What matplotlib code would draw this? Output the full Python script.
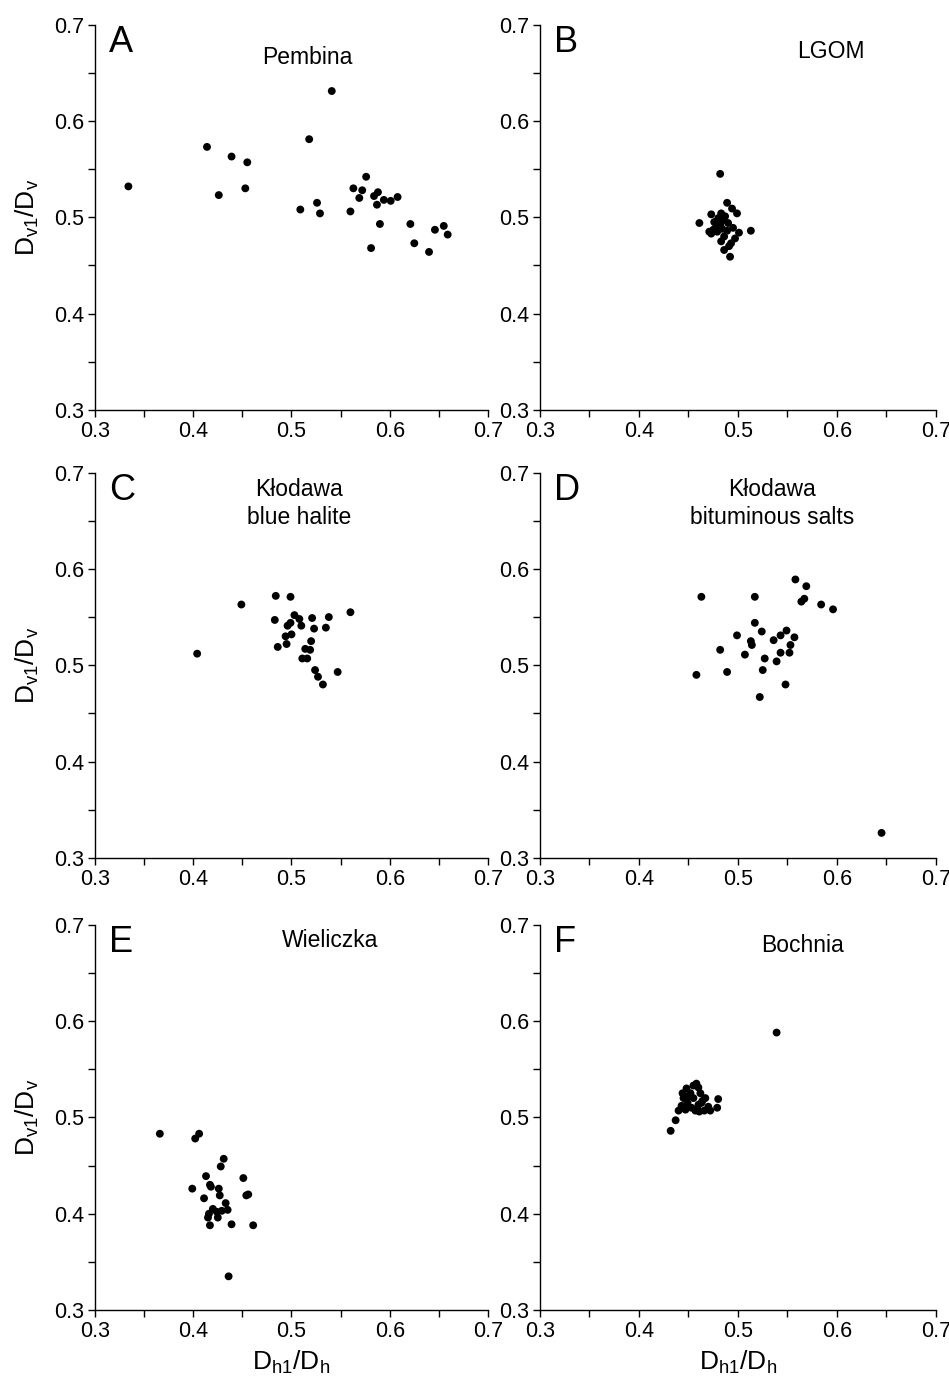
import matplotlib
matplotlib.use("Agg")
import matplotlib.pyplot as plt
from matplotlib.ticker import MultipleLocator

plt.rcParams['font.family'] = ['Liberation Sans', 'DejaVu Sans']
plt.rcParams['mathtext.fontset'] = 'custom'
plt.rcParams['mathtext.rm'] = 'Liberation Sans'
plt.rcParams['mathtext.default'] = 'regular'

# Panel A - Pembina
pembina_x = [0.334, 0.414, 0.439, 0.455, 0.426, 0.453, 0.541, 0.518, 0.576, 0.563,
             0.572, 0.569, 0.584, 0.588, 0.587, 0.594, 0.601, 0.608, 0.526, 0.529,
             0.509, 0.560, 0.590, 0.581, 0.621, 0.625, 0.640, 0.646, 0.655, 0.659]
pembina_y = [0.532, 0.573, 0.563, 0.557, 0.523, 0.530, 0.631, 0.581, 0.542, 0.530,
             0.528, 0.520, 0.522, 0.526, 0.513, 0.518, 0.517, 0.521, 0.515, 0.504,
             0.508, 0.506, 0.493, 0.468, 0.493, 0.473, 0.464, 0.487, 0.491, 0.482]

# Panel B - LGOM
lgom_x = [0.482, 0.489, 0.494, 0.499, 0.473, 0.483, 0.461, 0.485, 0.490, 0.482,
          0.475, 0.473, 0.479, 0.489, 0.501, 0.513, 0.497, 0.483, 0.493, 0.486,
          0.491, 0.492, 0.487, 0.478, 0.471, 0.476, 0.480, 0.495, 0.486, 0.484]
lgom_y = [0.545, 0.515, 0.509, 0.504, 0.503, 0.504, 0.494, 0.497, 0.494, 0.492,
          0.487, 0.483, 0.485, 0.486, 0.484, 0.486, 0.478, 0.475, 0.473, 0.466,
          0.470, 0.459, 0.501, 0.490, 0.485, 0.495, 0.499, 0.489, 0.480, 0.488]

# Panel C - Klodawa blue halite
blue_x = [0.404, 0.449, 0.484, 0.499, 0.483, 0.503, 0.508, 0.499, 0.496, 0.510,
          0.521, 0.538, 0.560, 0.523, 0.535, 0.494, 0.500, 0.495, 0.486, 0.520,
          0.514, 0.519, 0.511, 0.516, 0.524, 0.527, 0.532, 0.547]
blue_y = [0.512, 0.563, 0.572, 0.571, 0.547, 0.552, 0.548, 0.544, 0.541, 0.541,
          0.549, 0.550, 0.555, 0.538, 0.539, 0.530, 0.532, 0.522, 0.519, 0.525,
          0.517, 0.516, 0.507, 0.507, 0.495, 0.488, 0.480, 0.493]

# Panel D - Klodawa bituminous salts
bitum_x = [0.463, 0.517, 0.558, 0.569, 0.567, 0.564, 0.584, 0.596, 0.517, 0.524,
           0.499, 0.513, 0.514, 0.536, 0.543, 0.549, 0.557, 0.553, 0.552, 0.543,
           0.527, 0.507, 0.482, 0.539, 0.525, 0.489, 0.458, 0.548, 0.522, 0.645]
bitum_y = [0.571, 0.571, 0.589, 0.582, 0.569, 0.566, 0.563, 0.558, 0.544, 0.535,
           0.531, 0.525, 0.521, 0.526, 0.531, 0.536, 0.529, 0.521, 0.513, 0.513,
           0.507, 0.511, 0.516, 0.504, 0.495, 0.493, 0.490, 0.480, 0.467, 0.326]

# Panel E - Wieliczka
wiel_x = [0.366, 0.406, 0.402, 0.431, 0.428, 0.413, 0.451, 0.399, 0.417, 0.418,
          0.426, 0.427, 0.411, 0.454, 0.456, 0.433, 0.420, 0.424, 0.429, 0.435,
          0.416, 0.415, 0.425, 0.417, 0.439, 0.461, 0.436]
wiel_y = [0.483, 0.483, 0.478, 0.457, 0.449, 0.439, 0.437, 0.426, 0.430, 0.428,
          0.426, 0.419, 0.416, 0.419, 0.420, 0.411, 0.405, 0.402, 0.403, 0.404,
          0.400, 0.396, 0.396, 0.388, 0.389, 0.388, 0.335]

# Panel F - Bochnia
boch_x = [0.432, 0.437, 0.440, 0.443, 0.445, 0.448, 0.452, 0.455, 0.458, 0.460,
          0.462, 0.449, 0.453, 0.457, 0.460, 0.464, 0.467, 0.470, 0.472, 0.466,
          0.480, 0.479, 0.461, 0.447, 0.450, 0.455, 0.444, 0.463, 0.539]
boch_y = [0.486, 0.497, 0.507, 0.512, 0.520, 0.530, 0.525, 0.520, 0.535, 0.531,
          0.525, 0.515, 0.510, 0.507, 0.513, 0.517, 0.520, 0.511, 0.507, 0.507,
          0.519, 0.510, 0.506, 0.508, 0.522, 0.533, 0.525, 0.515, 0.588]

panels = [
    ('A', ['Pembina'], pembina_x, pembina_y, 0.54, 0.914),
    ('B', ['LGOM'], lgom_x, lgom_y, 0.735, 0.93),
    ('C', ['Kłodawa', 'blue halite'], blue_x, blue_y, 0.52, 0.956),
    ('D', ['Kłodawa', 'bituminous salts'], bitum_x, bitum_y, 0.585, 0.956),
    ('E', ['Wieliczka'], wiel_x, wiel_y, 0.598, 0.959),
    ('F', ['Bochnia'], boch_x, boch_y, 0.662, 0.946),
]

fig = plt.figure(figsize=(9.49, 13.78), dpi=100)

lefts = [0.1001, 0.569]
widths = [0.4141, 0.4173]
bottoms = [0.7025, 0.3774, 0.0493]
height = 0.2797

for i, (letter, title, xs, ys, tx, ty) in enumerate(panels):
    row, col = divmod(i, 2)
    ax = fig.add_axes([lefts[col], bottoms[row], widths[col], height])
    ax.scatter(xs, ys, s=32, color='black', edgecolors='none', zorder=3)

    ax.set_xlim(0.3, 0.7)
    ax.set_ylim(0.3, 0.7)
    ax.xaxis.set_major_locator(MultipleLocator(0.1))
    ax.xaxis.set_minor_locator(MultipleLocator(0.05))
    ax.yaxis.set_major_locator(MultipleLocator(0.1))
    ax.yaxis.set_minor_locator(MultipleLocator(0.05))
    ax.xaxis.set_major_formatter(plt.FuncFormatter(lambda v, p: f'{v:.1f}'))
    ax.yaxis.set_major_formatter(plt.FuncFormatter(lambda v, p: f'{v:.1f}'))

    ax.spines['top'].set_visible(False)
    ax.spines['right'].set_visible(False)
    for sp in ['left', 'bottom']:
        ax.spines[sp].set_linewidth(1.0)
    ax.tick_params(which='both', direction='out', length=5, width=1.0)
    ax.tick_params(which='major', labelsize=15.5, pad=3)

    ax.text(0.036, 1.0, letter, transform=ax.transAxes,
            fontsize=26, ha='left', va='top')
    ax.text(tx, ty, title[0], transform=ax.transAxes,
            fontsize=16.5, ha='center', va='center')
    if len(title) > 1:
        ax.text(tx, ty - 0.073, title[1], transform=ax.transAxes,
                fontsize=16.5, ha='center', va='center')

    if col == 0:
        ax.set_ylabel(r'D$_{v1}$/D$_{v}$', fontsize=19, labelpad=9)
    if row == 2:
        ax.set_xlabel(r'D$_{h1}$/D$_{h}$', fontsize=19, labelpad=5)

fig.savefig('out.png', dpi=100)
